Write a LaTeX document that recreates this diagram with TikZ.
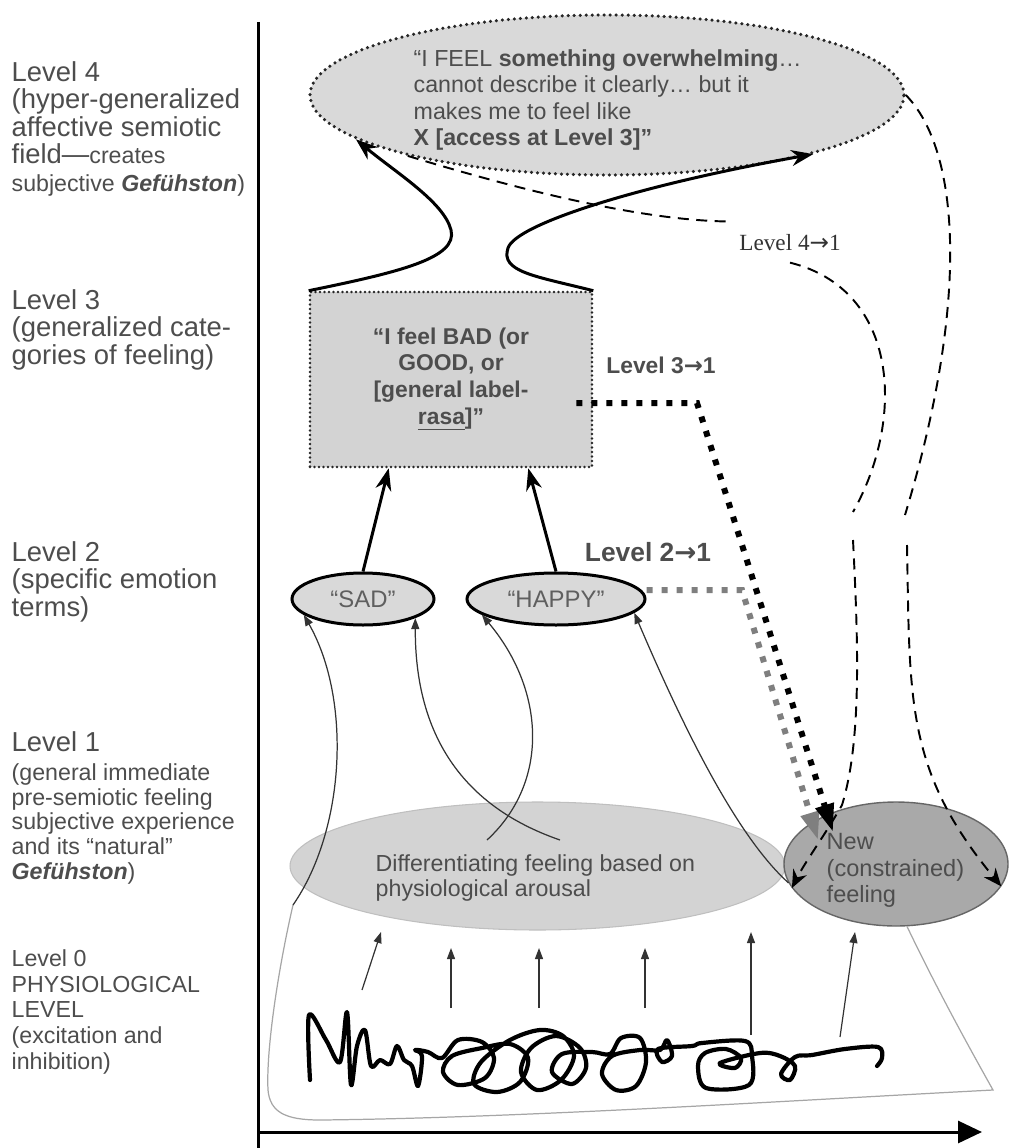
\documentclass[tikz,border=0pt]{standalone}
\usepackage{fontspec}
\setmainfont{Liberation Sans}
\newfontfamily\serifface{Liberation Serif}
\newfontfamily\arrowface{DejaVu Sans}
\usetikzlibrary{arrows.meta,calc,shapes.geometric}

\definecolor{txtgray}{HTML}{4D4D4D}
\definecolor{fillA}{HTML}{D9D9D9}
\definecolor{fillB}{HTML}{D3D3D3}
\definecolor{fillC}{HTML}{A9A9A9}
\definecolor{dotgray}{HTML}{7F7F7F}

\newcommand{\lvlbig}{\fontsize{7.8}{7.8}\selectfont}
\newcommand{\lvlsmall}{\fontsize{6.6}{7.1}\selectfont}
\newcommand{\gef}{\textbf{\textit{Gefühston}}}
\newcommand{\toarrow}{{\arrowface →}}

\tikzset{
  lvltxt/.style={anchor=north west,align=left,inner sep=0pt,text=txtgray,font=\lvlbig},
  hyperfield/.style={ellipse,draw=black!85,fill=fillA,line width=0.35mm,line cap=round,
    dash pattern=on 0pt off 0.6mm,minimum width=59.4mm,minimum height=16mm,inner sep=0pt},
  genbox/.style={rectangle,draw=black!85,fill=fillB,line width=0.26mm,line cap=round,
    dash pattern=on 0pt off 0.45mm,minimum width=28.2mm,minimum height=17.5mm,
    align=center,text=txtgray,font=\bfseries\fontsize{6.5}{7.6}\selectfont},
  term/.style={ellipse,draw=black,fill=fillA,line width=0.3mm,minimum height=5.2mm,
    inner sep=0pt,text=txtgray!90,font=\fontsize{6.8}{7}\selectfont},
  arousal/.style={ellipse,fill=fillB,draw=black!25,line width=0.3pt,
    minimum width=49.5mm,minimum height=12.8mm,inner sep=0pt},
  newfeel/.style={ellipse,fill=fillC,draw=black!60,line width=0.4pt,
    minimum width=22.4mm,minimum height=12.4mm,inner sep=0pt},
  heavy/.style={line width=0.3mm,-{Stealth[length=2.2mm,width=1.6mm]}},
  wire/.style={line width=0.35pt,draw=black!80,-{Triangle[length=1.1mm,width=0.8mm]}},
  dashline/.style={line width=0.55pt,dash pattern=on 1.1mm off 0.75mm},
  dashtip/.style={-{Stealth[length=1.8mm,width=1.5mm]}},
  blackdots/.style={line width=0.6mm,dash pattern=on 0.6mm off 0.9mm,
    -{Triangle[length=2.8mm,width=1.8mm]}},
  graydots/.style={blackdots,draw=dotgray},
  scribble/.style={line width=0.42mm,line join=round,line cap=round},
  blob/.style={draw=black!35,line width=0.35pt},
  axisline/.style={line width=0.3mm}
}

\begin{document}
\begin{tikzpicture}[x=0.1mm,y=-0.1mm]
\useasboundingbox (0,0) rectangle (1010,1148);

% axes
\coordinate (ytop) at (258,22);
\coordinate (ybot) at (258,1148);
\coordinate (xorg) at (258,1132);
\coordinate (xend) at (982,1132);
\draw[axisline] (ytop) -- (ybot);
\draw[axisline,-{Triangle[length=2.4mm,width=2.2mm]}] (xorg) -- (xend);

% level labels
\node[lvltxt] (lv4) at (11,61) {Level 4\\(hyper-generalized\\affective semiotic\\field—{\lvlsmall creates}\\{\lvlsmall subjective \gef)}};
\node[lvltxt] (lv3) at (11,289) {Level 3\\(generalized cate-\\gories of feeling)};
\node[lvltxt] (lv2) at (11,541) {Level 2\\(specific emotion\\terms)};
\node[lvltxt,font=\lvlsmall] (lv1) at (11,731) {{\lvlbig Level 1}\\[1pt](general immediate\\pre-semiotic feeling\\subjective experience\\and its “natural”\\\gef)};
\node[lvltxt,font=\fontsize{6.6}{7.3}\selectfont] (lv0) at (11,949) {Level 0\\PHYSIOLOGICAL\\LEVEL\\(excitation and\\inhibition)};

% shapes
\node[hyperfield] (hyper) at (607,95) {};
\node[lvltxt,font=\fontsize{6.6}{7.5}\selectfont] (hypertxt) at (413,49) {“I FEEL \textbf{something overwhelming}…\\cannot describe it clearly… but it\\makes me to feel like\\\textbf{X [access at Level 3]”}};
\node[genbox] (gen) at (451,379.5) {“I feel BAD (or\\GOOD, or\\{}[general label-\\\underline{rasa}]”};
\node[term,minimum width=14.2mm] (sad) at (363,599) {“SAD”};
\node[term,minimum width=17.8mm] (happy) at (556,599) {“HAPPY”};
\node[arousal] (diff) at (537.5,866) {};
\node[newfeel] (new) at (896,864) {};
\node[lvltxt,font=\fontsize{6.6}{7.1}\selectfont] (difftxt) at (375,854) {Differentiating feeling based on\\physiological arousal};
\node[lvltxt,font=\fontsize{6.7}{7.5}\selectfont] (newtxt) at (826,833) {New\\(constrained)\\feeling};

% arrow labels
\node[anchor=base,text=txtgray,font=\bfseries\fontsize{6.5}{7}\selectfont] (l31) at (661,373) {Level 3\toarrow1};
\node[anchor=base,text=txtgray,font=\bfseries\fontsize{7.5}{8}\selectfont] (l21) at (648,561) {Level 2\toarrow1};
\node[anchor=base,text=black!80,font=\serifface\fontsize{6.6}{7}\selectfont] (l41) at (790,250) {Level 4\toarrow1};

% physiological level
\coordinate (s1) at (293,905);
\draw[blob] (s1) .. controls (278,970) and (266,1050) .. (268,1090)
  .. controls (270,1112) and (285,1120) .. (320,1120)
  .. controls (520,1118) and (800,1100) .. (993,1090)
  .. controls (965,1040) and (935,985) .. (new.-80);
\draw[scribble] plot[smooth,tension=0.55] coordinates {
  (310,1080) (309,1015) (326,1040) (340,1062) (347,1012) (351,1085) (357,1046)
  (365,1030) (371,1066) (380,1060) (390,1064) (397,1046) (404,1060) (412,1066)
  (418,1086) (422,1056) (415,1050) (428,1052)
  (442,1058) (458,1040) (482,1042) (494,1058) (485,1078) (458,1085) (443,1072)
  (452,1056) (482,1048) (510,1044) (528,1058) (520,1082) (497,1092) (474,1084)
  (481,1062) (510,1040) (540,1030) (563,1036) (574,1056) (561,1080) (537,1090)
  (521,1072) (531,1048) (556,1036) (580,1048) (586,1068) (572,1084) (552,1072)
  (562,1054) (592,1052)
  (610,1054) (621,1038) (640,1038) (646,1062) (636,1086) (616,1090) (602,1074)
  (612,1056) (640,1050) (660,1050) (667,1040) (672,1056) (662,1062) (658,1049)
  (692,1046)
  (702,1043) (745,1041) (752,1056) (749,1085) (706,1088) (698,1066) (705,1053)
  (726,1049) (741,1058) (735,1068) (720,1063) (760,1053)
  (780,1056) (795,1066) (790,1080) (781,1074) (795,1057) (812,1055) (845,1049)
  (878,1047) (882,1058) (877,1066)};
\foreach \i/\xa/\ya/\xb/\yb in {1/362/990/381/932,2/451/1008/451/948,3/539/1008/539/948,
    4/645/1008/645/948,5/751/1035/751/932,6/840/1037/855/932}{
  \coordinate (t\i) at (\xa,\ya);
  \coordinate (h\i) at (\xb,\yb);
  \draw[wire] (t\i) -- (h\i);
}

% level 1 -> level 2
\coordinate (x2) at (560,840);
\coordinate (x3) at (487,840);
\draw[wire] (s1) .. controls (345,830) and (352,700) .. (sad.-165);
\draw[wire] (x2) .. controls (450,802) and (415,720) .. (sad.-20);
\draw[wire] (x3) .. controls (550,782) and (545,690) .. (happy.-168);
\draw[wire] (new.190) .. controls (735,835) and (680,720) .. (happy.-10);

% level 2 -> level 3 -> level 4
\draw[heavy] (sad.north) -- ([xshift=8mm]gen.south west);
\draw[heavy] (happy.north) -- ([xshift=-6.5mm]gen.south east);
\draw[heavy] (gen.north west) .. controls (400,272) and (458,258) .. (451,230)
  .. controls (444,202) and (395,172) .. (hyper.-170);
\draw[heavy] (gen.north east) .. controls (535,276) and (500,272) .. (508,248)
  .. controls (516,224) and (640,185) .. (hyper.-16);

% feedback to level 1
\coordinate (k3) at (697,403);
\coordinate (k2) at (742,590);
\draw[graydots] (happy.east |- k2) -- (k2) -- ($(new.center)+(-78,-24)$);
\draw[blackdots] ($(gen.east |- k3)+(-17,0)$) -- (k3) -- ($(new.center)+(-63,-32)$);
\coordinate (g1) at (853,512);
\coordinate (g2) at (853,540);
\coordinate (g3) at (905,515);
\coordinate (g4) at (907,545);
\draw[dashline] (hyper.-163) .. controls (520,190) and (640,220) .. (l41.north west);
\draw[dashline] (l41.south) .. controls (900,290) and (905,420) .. (g1);
\draw[dashline,dashtip] (g2) .. controls (858,640) and (862,740) .. (842,805)
  .. controls (825,835) and (805,862) .. (new.-167);
\draw[dashline] (hyper.east) .. controls (960,150) and (970,300) .. (g3);
\draw[dashline,dashtip] (g4) .. controls (910,700) and (905,770) .. (new.-12);
\end{tikzpicture}
\end{document}
